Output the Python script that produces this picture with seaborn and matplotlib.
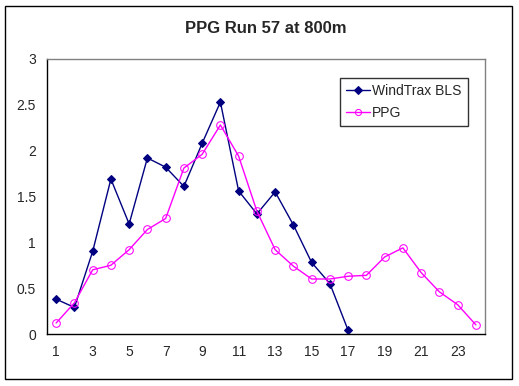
import numpy as np
import pandas as pd
import matplotlib
matplotlib.use("Agg")
import matplotlib.pyplot as plt
from matplotlib.patches import Rectangle
import seaborn as sns

# data
bls_x = list(range(1, 18))
bls_y = [0.38, 0.29, 0.90, 1.69, 1.20, 1.92, 1.82, 1.61, 2.08, 2.53,
         1.56, 1.31, 1.55, 1.19, 0.78, 0.55, 0.04]
ppg_x = list(range(1, 25))
ppg_y = [0.12, 0.34, 0.70, 0.75, 0.92, 1.14, 1.26, 1.81, 1.96, 2.28,
         1.94, 1.34, 0.92, 0.74, 0.60, 0.60, 0.63, 0.64, 0.84, 0.94,
         0.67, 0.46, 0.32, 0.10]
series_names = ["WindTrax BLS", "PPG"]
tick_labels = [str(i) for i in range(1, 25, 2)]

df = pd.concat([
    pd.DataFrame({"x": bls_x, "y": bls_y, "series": series_names[0]}),
    pd.DataFrame({"x": ppg_x, "y": ppg_y, "series": series_names[1]}),
])

sns.set_style("white")
plt.rcParams["font.family"] = ["Liberation Sans", "DejaVu Sans"]

fig = plt.figure(figsize=(5.19, 3.86), dpi=100)
ax = fig.add_axes([0.0906, 0.1347, 0.8439, 0.7125])

# outer chart border
fig.patches.append(Rectangle((5 / 519, 1 - 379 / 386), 507 / 519, 373 / 386,
                             transform=fig.transFigure, fill=False,
                             edgecolor="black", linewidth=1))

sns.lineplot(data=df[df.series == series_names[0]], x="x", y="y", ax=ax,
             color="#000080", linewidth=1, marker="D", markersize=4.5,
             markerfacecolor="#000080", markeredgecolor="#000080",
             label=series_names[0])
sns.lineplot(data=df[df.series == series_names[1]], x="x", y="y", ax=ax,
             color="#FF00FF", linewidth=1, marker="o", markersize=5.5,
             markerfacecolor="none", markeredgecolor="#FF00FF",
             label=series_names[1])

ax.set_xlim(0.5, 24.5)
ax.set_ylim(0, 3)
ax.set_yticks(np.arange(0, 3.01, 0.5))
ax.set_yticklabels(["0", "0.5", "1", "1.5", "2", "2.5", "3"])
ax.set_xticks(np.arange(1, 25, 2))
ax.set_xticklabels(tick_labels)
ax.set_xticks(np.arange(0.5, 24.6, 1), minor=True)
ax.tick_params(axis="x", which="major", length=0, labelsize=10, pad=8)
ax.tick_params(axis="x", which="minor", length=5, width=1, color="black",
               direction="out")
ax.tick_params(axis="y", length=5, width=1, color="black", direction="out",
               labelsize=10, pad=3)
ax.set_xlabel("")
ax.set_ylabel("")

for side in ["left", "bottom"]:
    ax.spines[side].set_color("black")
    ax.spines[side].set_linewidth(1)
for side in ["top", "right"]:
    ax.spines[side].set_color("#808080")
    ax.spines[side].set_linewidth(1)

ax.set_title("PPG Run 57 at 800m", fontsize=12, fontweight="bold", pad=19)

leg = ax.legend(loc="upper right", bbox_to_anchor=(0.961, 0.931),
                frameon=True, fancybox=False, fontsize=10,
                handlelength=1.7, handletextpad=0.2, borderpad=0.45,
                labelspacing=0.55, borderaxespad=0, markerscale=0.8)
leg.get_frame().set_edgecolor("black")
leg.get_frame().set_linewidth(1)

fig.savefig("out.png", dpi=100)
